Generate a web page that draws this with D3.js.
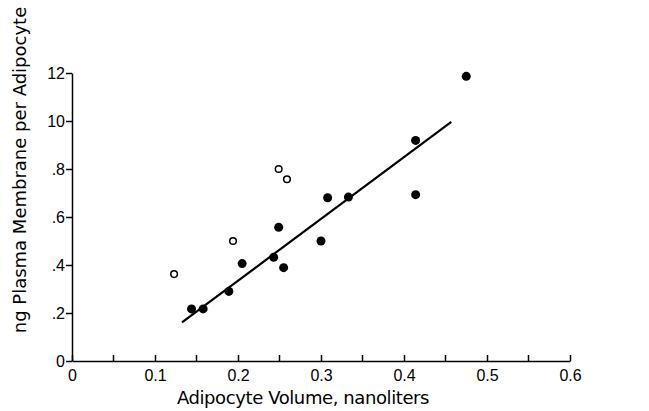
<!DOCTYPE html>
<html>
<head>
<meta charset="utf-8">
<script src="https://cdn.jsdelivr.net/npm/d3@7"></script>
<style>
    body { margin: 0; background: #fff; }
    svg { display: block; font-family: "DejaVu Sans", sans-serif; }
    .axis path, .axis line { stroke: #000; stroke-width: 1.5; }
    .axis text { font-size: 16px; fill: #000; }
</style>
</head>
<body>
<div id="chart"></div>
<script>
/* global d3 */

// filled circles
var filledX = [0.144, 0.158, 0.189, 0.205, 0.243, 0.249, 0.255, 0.300, 0.308, 0.333, 0.414, 0.414, 0.475];
var filledY = [0.217, 0.217, 0.290, 0.406, 0.432, 0.557, 0.389, 0.500, 0.680, 0.683, 0.919, 0.693, 1.186];

// open circles
var openX = [0.123, 0.194, 0.249, 0.259];
var openY = [0.362, 0.500, 0.800, 0.757];

// regression line end points
var lineX = [0.1325, 0.457];
var lineY = [0.161, 0.996];

var xTicks = [0, 0.1, 0.2, 0.3, 0.4, 0.5, 0.6];
var xTickLabels = ["0", "0.1", "0.2", "0.3", "0.4", "0.5", "0.6"];
var xMinorTicks = [0.05, 0.15, 0.25, 0.35, 0.45, 0.55];
var yTicks = [0, 0.2, 0.4, 0.6, 0.8, 1.0, 1.2];
var yTickLabels = ["0", ".2", ".4", ".6", ".8", "10", "12"];

var width = 649,
    height = 411,
    margin = {top: 73, right: 79, bottom: 50, left: 72},
    innerWidth = width - margin.left - margin.right,
    innerHeight = height - margin.top - margin.bottom;

var svg = d3.select("#chart")
    .append("svg")
    .attr("width", width)
    .attr("height", height);

var g = svg.append("g")
    .attr("transform", "translate(" + margin.left + "," + margin.top + ")");

var xScale = d3.scaleLinear().domain([0, 0.6]).range([0, innerWidth]);
var yScale = d3.scaleLinear().domain([0, 1.2]).range([innerHeight, 0]);

// x axis: ticks point up into the plot
var xAxis = g.append("g")
    .attr("class", "x axis")
    .attr("transform", "translate(0," + innerHeight + ")")
    .call(d3.axisBottom(xScale)
        .tickValues(xTicks)
        .tickSizeInner(-6)
        .tickSizeOuter(0)
        .tickPadding(9)
        .tickFormat(function(d, i) { return xTickLabels[i]; }));

xAxis.selectAll(".minor")
    .data(xMinorTicks)
    .enter()
    .append("line")
    .attr("class", "minor")
    .attr("x1", function(d) { return xScale(d); })
    .attr("x2", function(d) { return xScale(d); })
    .attr("y1", 0)
    .attr("y2", -6);

// y axis: ticks point left
g.append("g")
    .attr("class", "y axis")
    .call(d3.axisLeft(yScale)
        .tickValues(yTicks)
        .tickSizeInner(6)
        .tickSizeOuter(0)
        .tickPadding(1)
        .tickFormat(function(d, i) { return yTickLabels[i]; }));

// axis titles
svg.append("text")
    .attr("x", margin.left + xScale(0.3) - 18)
    .attr("y", 404)
    .attr("text-anchor", "middle")
    .style("font-size", "18px")
    .style("letter-spacing", "-0.4px")
    .text("Adipocyte Volume, nanoliters");

svg.append("text")
    .attr("transform", "translate(26," + 170 + ") rotate(-90)")
    .attr("text-anchor", "middle")
    .style("font-size", "18px")
    .text("ng Plasma Membrane per Adipocyte");

// regression line
var line = d3.line()
    .x(function(d) { return xScale(d[0]); })
    .y(function(d) { return yScale(d[1]); });

g.append("path")
    .datum(d3.zip(lineX, lineY))
    .attr("d", line)
    .attr("fill", "none")
    .attr("stroke", "#000")
    .attr("stroke-width", 2.2);

g.selectAll(".filled")
    .data(d3.zip(filledX, filledY))
    .enter()
    .append("circle")
    .attr("class", "filled")
    .attr("cx", function(d) { return xScale(d[0]); })
    .attr("cy", function(d) { return yScale(d[1]); })
    .attr("r", 4.5)
    .attr("fill", "#000");

g.selectAll(".open")
    .data(d3.zip(openX, openY))
    .enter()
    .append("circle")
    .attr("class", "open")
    .attr("cx", function(d) { return xScale(d[0]); })
    .attr("cy", function(d) { return yScale(d[1]); })
    .attr("r", 3.3)
    .attr("fill", "#fff")
    .attr("stroke", "#000")
    .attr("stroke-width", 1.5);
</script>
</body>
</html>
